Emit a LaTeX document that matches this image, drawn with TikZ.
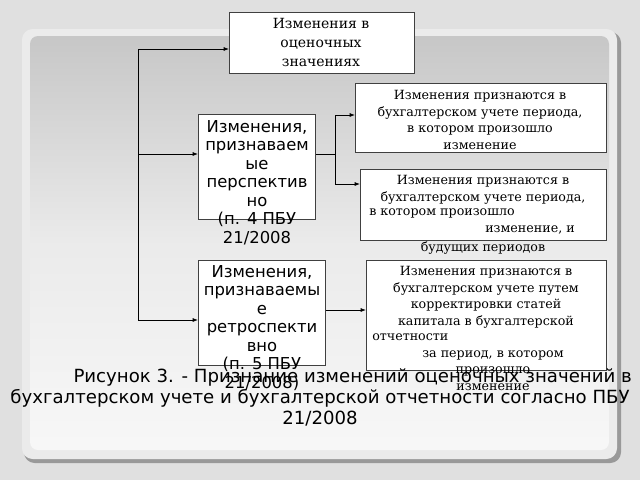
\documentclass[tikz,border=0pt]{standalone}
\usepackage{fontspec}
\setmainfont{DejaVu Serif}
\setsansfont{DejaVu Sans}
\usetikzlibrary{arrows.meta}
\begin{document}
\begin{tikzpicture}[x=0.75pt,y=-0.75pt,
  box/.style={draw=black!75,fill=white,line width=0.8pt},
  sertxt/.style={font=\fontsize{9.5}{12.4}\selectfont,align=center,anchor=north,inner sep=0pt},
  lintxt/.style={font=\fontsize{9.5}{12.4}\selectfont,anchor=north west,inner sep=0pt},
  santxt/.style={font=\sffamily\fontsize{12.3}{13.9}\selectfont,align=center,anchor=north,inner sep=0pt},
  conn/.style={line width=0.6pt},
  arr/.style={conn,-{Latex[length=4pt,width=3pt]}}]
\useasboundingbox (0,0) rectangle (640,480);
\fill[black!12] (0,0) rectangle (640,480);
\fill[black!40,rounded corners=8pt] (24,32) rectangle (621,463);
\fill[black!8,rounded corners=8pt] (22,29) rectangle (617,459);
\shade[top color=black!22,bottom color=black!3,middle color=black!8,rounded corners=6pt] (30,36) rectangle (609,450);
% boxes
\node[box,minimum width=185*0.75pt,minimum height=61*0.75pt,anchor=north west] (top) at (229,12) {};
\node[box,minimum width=117*0.75pt,minimum height=105*0.75pt,anchor=north west] (pa) at (198,114) {};
\node[box,minimum width=127*0.75pt,minimum height=105*0.75pt,anchor=north west] (pb) at (198,260) {};
\node[box,minimum width=251*0.75pt,minimum height=69*0.75pt,anchor=north west] (r1) at (355,83) {};
\node[box,minimum width=246*0.75pt,minimum height=71*0.75pt,anchor=north west] (r2) at (360,169) {};
\node[box,minimum width=240*0.75pt,minimum height=110*0.75pt,anchor=north west] (r3) at (366,260) {};
% texts
\node[sertxt,font=\fontsize{10.5}{14.2}\selectfont] (tt) at (321,18) {Изменения в\\оценочных\\значениях};
\node[sertxt] (t1) at (480,90) {Изменения признаются в\\бухгалтерском учете периода,\\в котором произошло\\изменение};
\node[sertxt] (t2a) at (483,175) {Изменения признаются в\\бухгалтерском учете периода,};
\node[lintxt] (t2b) at (369,208) {в котором произошло};
\node[lintxt] (t2c) at (485,225) {изменение, и};
\node[sertxt] (t2d) at (483,241) {будущих периодов};
\node[sertxt] (t3a) at (486,266) {Изменения признаются в\\бухгалтерском учете путем\\корректировки статей\\капитала в бухгалтерской};
\node[lintxt] (t3b) at (372,333) {отчетности};
\node[sertxt] (t3c) at (493,350) {за период, в котором\\произошло\\изменение};
\node[santxt] (ta) at (257,120) {Изменения,\\признаваем\\ые\\перспектив\\но\\(п. 4 ПБУ\\21/2008};
\node[santxt] (tb) at (262,265) {Изменения,\\признаваемы\\е\\ретроспекти\\вно\\(п. 5 ПБУ\\21/2008)};
% connectors
\coordinate (c0) at (138,320);
\coordinate (c1) at (138,49);
\coordinate (c2) at (138,154);
\coordinate (j) at (335,154);
\coordinate (j1) at (335,115);
\coordinate (j2) at (335,184);
\draw[conn] (c0) -- (c1);
\draw[arr] (c1) -- (top.west |- c1);
\draw[arr] (c2) -- (pa.west |- c2);
\draw[arr] (c0) -- (pb.west |- c0);
\draw[conn] (pa.east |- j) -- (j);
\draw[conn] (j1) -- (j2);
\draw[arr] (j1) -- (r1.west |- j1);
\draw[arr] (j2) -- (r2.west |- j2);
\draw[arr] (pb.east |- 0,310) -- (r3.west |- 0,310);
% caption
\node[font=\sffamily\fontsize{13.6}{15.8}\selectfont,align=center,anchor=north,inner sep=0pt] (cap) at (320,368) {\hspace*{3.6em}Рисунок 3. - Признание изменений оценочных значений в\\бухгалтерском учете и бухгалтерской отчетности согласно ПБУ\\21/2008};
\end{tikzpicture}
\end{document}
